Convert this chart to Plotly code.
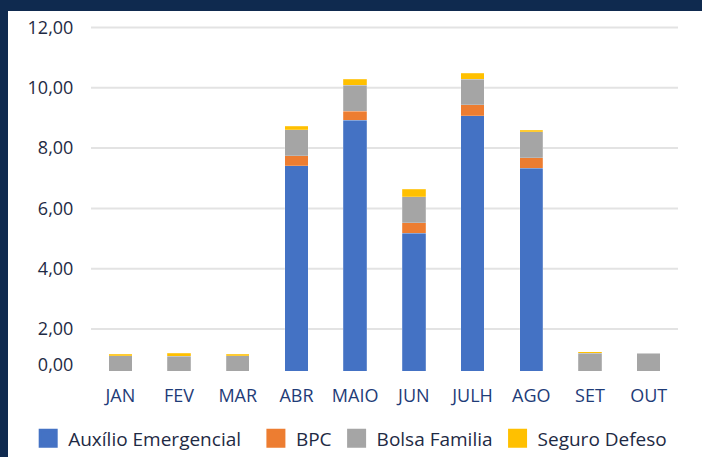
import plotly.graph_objects as go

# dados (milhões)
meses = ["JAN", "FEV", "MAR", "ABR", "MAIO", "JUN", "JULH", "AGO", "SET", "OUT"]
auxilio = [0, 0, 0, 7.41, 8.92, 5.17, 9.07, 7.33, 0, 0]
bpc = [0, 0, 0, 0.34, 0.31, 0.36, 0.36, 0.35, 0, 0]
bolsa = [1.11, 1.10, 1.11, 0.86, 0.85, 0.85, 0.85, 0.86, 1.19, 1.19]
defeso = [0.05, 0.09, 0.05, 0.12, 0.20, 0.25, 0.20, 0.06, 0.05, 0.0]

y_ticks = [2, 4, 6, 8, 10, 12]
y_ticktext = ["2,00", "4,00", "6,00", "8,00", "10,00", "12,00"]

series = [
    ("Auxílio Emergencial", auxilio, "#4472C4"),
    ("BPC", bpc, "#ED7D31"),
    ("Bolsa Familia", bolsa, "#A5A5A5"),
    ("Seguro Defeso", defeso, "#FFC000"),
]

W, H = 702, 457
ML, MR, MT, MB = 91, 24, 26, 86
NAVY = "#0F2A4F"
FONT = "Open Sans"
NBSP = "\u00a0"

fig = go.Figure()
for i, (name, vals, color) in enumerate(series):
    fig.add_trace(go.Bar(
        x=meses, y=vals, name=name, showlegend=False,
        marker={"color": color, "line": {"color": "rgba(255,255,255,0.4)", "width": 0.5}},
    ))
    # Why: o quadrado da legenda do Excel é maior que o padrão do plotly para barras;
    # um espaço duro imita o intervalo maior após o primeiro item.
    label = name + (NBSP * 2 if i == 0 else "")
    fig.add_trace(go.Scatter(
        x=[None], y=[None], name=label, mode="markers",
        marker={"symbol": "square", "size": 16, "color": color,
                "line": {"color": color, "width": 3}},
    ))

for v in y_ticks:
    fig.add_hline(y=v, line={"color": "#E3E3E3", "width": 2}, layer="below")

pw = W - ML - MR
ph = H - MT - MB
# moldura azul-marinho (topo e lateral esquerda)
fig.add_shape(type="rect", xref="paper", yref="paper",
              x0=-ML / pw, x1=(W - ML) / pw, y0=(H - MB - 11) / ph, y1=(H - MB) / ph + 0.01,
              fillcolor=NAVY, line={"width": 0})
fig.add_shape(type="rect", xref="paper", yref="paper",
              x0=-ML / pw, x1=(8 - ML) / pw, y0=-MB / ph - 0.01, y1=(H - MB) / ph + 0.01,
              fillcolor=NAVY, line={"width": 0})

fig.update_layout(
    width=W, height=H,
    margin={"l": ML, "r": MR, "t": MT, "b": MB, "autoexpand": False},
    barmode="stack", bargap=0.6,
    paper_bgcolor="white", plot_bgcolor="white",
    font={"family": FONT, "size": 18, "color": "#1E2A44"},
    legend={"orientation": "h", "x": -0.107, "xanchor": "left", "traceorder": "normal",
            "y": -0.195, "yanchor": "middle", "font": {"size": 19, "color": "#1E2A44"},
            "itemwidth": 30},
)
fig.update_xaxes(
    showgrid=False, showline=False, zeroline=False,
    ticks="outside", ticklen=8, tickcolor="rgba(0,0,0,0)",
    tickfont={"family": FONT, "size": 18, "color": "#1F3C78"},
)
fig.update_yaxes(
    range=[0.607, 12.05], showgrid=False, zeroline=False, showline=False,
    tickvals=[0.806] + y_ticks, ticktext=["0,00"] + y_ticktext,
    ticks="outside", ticklen=13, tickcolor="rgba(0,0,0,0)",
    tickfont={"family": FONT, "size": 18, "color": "#1E2A44"},
)

# Why: sem a margem padrão do <body> a figura cobre a janela inteira.
fig.write_html("out.html", config={"displayModeBar": False},
               post_script="document.body.style.margin='0';")
